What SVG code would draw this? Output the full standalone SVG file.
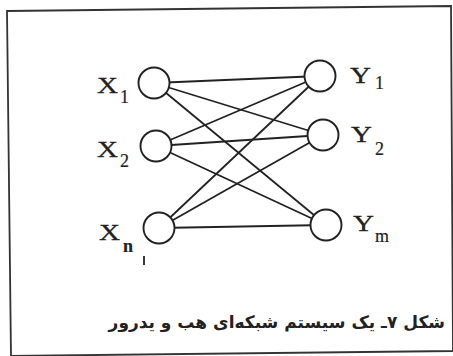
<svg xmlns="http://www.w3.org/2000/svg" width="453" height="356" viewBox="0 0 453 356">
<style>
.frame{fill:none;stroke:#333;stroke-width:1.8}
.edge{stroke:#222;stroke-width:1.8;fill:none}
.node{fill:#fff;stroke:#222;stroke-width:1.9}
.lbl{font-family:"Liberation Serif","Times New Roman",serif;font-size:24px;fill:#222;stroke:#222;stroke-width:0.3}
.sub{font-family:"Liberation Serif","Times New Roman",serif;font-size:18px;fill:#222;stroke:#222;stroke-width:0.2}
.cap{font-family:"DejaVu Sans","Noto Sans",sans-serif;font-size:17px;font-weight:bold;fill:#222}
</style>
<rect width="453" height="356" fill="#fff"/>
<path class="frame" d="M7 11 L451 6 L453 351 L11 356 Z"/>
<g id="connectors">
<line class="edge" x1="154" y1="83" x2="320" y2="76"/>
<line class="edge" x1="154" y1="83" x2="323" y2="135"/>
<line class="edge" x1="154" y1="83" x2="326" y2="225"/>
<line class="edge" x1="156" y1="146" x2="320" y2="76"/>
<line class="edge" x1="156" y1="146" x2="323" y2="135"/>
<line class="edge" x1="156" y1="146" x2="326" y2="225"/>
<line class="edge" x1="159" y1="228" x2="320" y2="76"/>
<line class="edge" x1="159" y1="228" x2="323" y2="135"/>
<line class="edge" x1="159" y1="228" x2="326" y2="225"/>
</g>
<g id="x1"><circle class="node" cx="154" cy="83" r="15.5"/><text class="lbl" x="97" y="93" textLength="21" lengthAdjust="spacingAndGlyphs">X</text><text class="sub" x="120" y="103">1</text></g>
<g id="x2"><circle class="node" cx="156" cy="146" r="15.5"/><text class="lbl" x="97" y="157" textLength="21" lengthAdjust="spacingAndGlyphs">X</text><text class="sub" x="120" y="167">2</text></g>
<g id="xn"><circle class="node" cx="159" cy="228" r="15.5"/><text class="lbl" x="99" y="240" textLength="21" lengthAdjust="spacingAndGlyphs">X</text><text class="sub" x="123" y="252" font-weight="bold">n</text><line class="edge" x1="144" y1="256" x2="144" y2="265" stroke-width="1.2"/></g>
<g id="y1"><circle class="node" cx="320" cy="76" r="15.5"/><text class="lbl" x="350" y="83" textLength="21" lengthAdjust="spacingAndGlyphs">Y</text><text class="sub" x="375" y="89">1</text></g>
<g id="y2"><circle class="node" cx="323" cy="135" r="15.5"/><text class="lbl" x="351" y="142" textLength="21" lengthAdjust="spacingAndGlyphs">Y</text><text class="sub" x="375" y="155">2</text></g>
<g id="ym"><circle class="node" cx="326" cy="225" r="15.5"/><text class="lbl" x="353" y="231" textLength="21" lengthAdjust="spacingAndGlyphs">Y</text><text class="sub" x="375" y="242">m</text></g>
<text class="cap" x="445" y="328" direction="rtl" text-anchor="start">شکل ۷ـ یک سیستم شبکه‌ای هب و یدرور</text>
</svg>
